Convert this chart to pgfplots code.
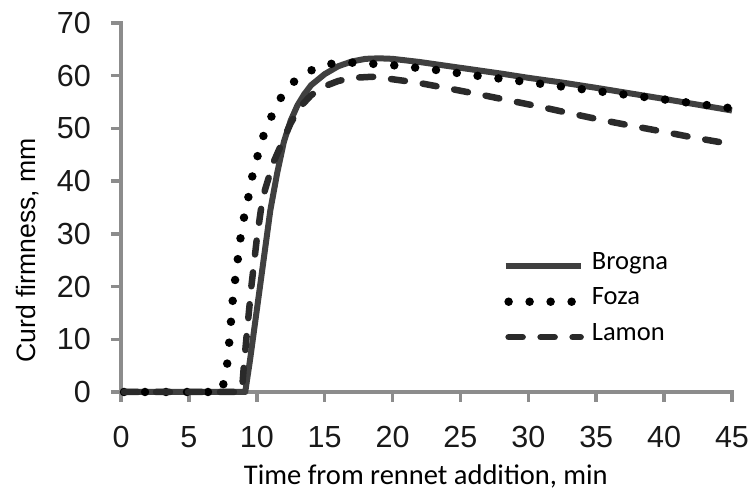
\documentclass[border=0pt]{standalone}
\usepackage{pgfplots}
\pgfplotsset{compat=1.18}
\usepackage{fontspec}
\setmainfont{Liberation Sans}
\newfontfamily\calibri{Carlito}
\definecolor{axgray}{HTML}{8C8C8C}
\definecolor{brogna}{HTML}{404040}
\definecolor{lamon}{HTML}{2A2A2A}
\newcommand{\lgf}{\calibri\fontsize{26.5}{28}\selectfont}
\begin{document}
\begin{tikzpicture}
\useasboundingbox (-121pt,-102pt) rectangle (631pt,392pt);
\begin{axis}[
  at={(0pt,0pt)}, anchor=south west,
  scale only axis, width=611pt, height=369pt,
  xmin=0, xmax=45, ymin=0, ymax=70,
  clip=false,
  axis x line*=bottom, axis y line*=left,
  axis line style={draw=axgray, line width=3.5pt, line cap=rect},
  every tick/.style={draw=axgray, line width=3.5pt},
  tick align=outside, major tick length=10pt,
  xtick={0,5,...,45}, ytick={0,10,...,70},
  /pgf/number format/assume math mode=true,
  tick label style={font=\fontsize{30.5}{33}\selectfont, text=black!90},
  yticklabel style={inner sep=0pt, xshift=-20pt},
  xticklabel style={inner sep=0pt, yshift=-24pt},
  xlabel={Time from rennet addition, min},
  xlabel style={font=\calibri\fontsize{28.5}{30}\selectfont, at={(axis description cs:0.499,0)}, anchor=base, yshift=-93pt, inner sep=0pt},
  ylabel={Curd firmness, mm},
  ylabel style={font=\fontsize{26.6}{28}\selectfont, at={(axis cs:-6.33,26.9)}, anchor=base, inner sep=0pt},
  legend image code/.code={\draw[#1] (0pt,-2.5pt) -- (75pt,-2.5pt);},
  legend cell align=left,
  legend style={draw=none, fill=none, at={(axis cs:28.0,17.6)}, anchor=west, inner sep=0pt,
    row sep=12.5pt, column sep=0pt,
    nodes={inner sep=0pt, text height=17pt, text depth=6pt}},
]
\addplot[brogna, line width=6pt, line join=round] coordinates {
(0,0) (9.15,0) (9.5,6) (10,15.5) (10.5,25) (11,34.5) (11.5,41.5) (12,47.5) (12.5,51.5) (13,54.4) (13.5,56.5) (14,58.2) (15,60.3) (16,61.8) (17,62.7) (18,63.2) (19,63.3) (20,63.2) (22,62.6) (25,61.5) (28,60.4) (30,59.6) (32.5,58.7) (35,57.7) (40,55.6) (45,53.4)
};
\addlegendentry{\hspace{7pt}\lgf Brogna}
\addplot[black, line width=8.5pt, line cap=round, dash pattern=on 0pt off 21pt, dash phase=-3pt] coordinates {
(0,0) (7.35,0) (7.5,1) (7.8,4.8) (7.95,8.8) (8.08,12.7) (8.2,16.7) (8.37,20.6) (8.57,24.5) (8.76,28.5) (9,32.4) (9.33,36.2) (9.6,40.2) (10,44.2) (10.4,48) (11,51.8) (11.6,55.2) (12.6,58.6) (13.8,60.8) (15.2,62.2) (16.8,62.5) (18.3,62.3) (20,62) (22.9,61.2) (25.9,60.1) (29,59.1) (32,58.1) (35,57.1) (40,55.5) (45,53.8)
};
\addlegendentry{\hspace{7pt}\lgf Foza}
\addplot[lamon, line width=6.5pt, line cap=round, line join=round, dash pattern=on 14pt off 18pt, dash phase=-3pt] coordinates {
(0,0) (8.9,0) (9.05,5) (9.3,12) (9.6,20) (10,29) (10.3,34.5) (10.6,38.3) (11.2,43.4) (11.95,47.8) (12.5,51) (13.2,54.1) (14,56.3) (14.9,57.9) (16,59) (17.1,59.6) (18.5,59.8) (19.8,59.4) (21.8,58.7) (24.1,57.6) (26.3,56.5) (28.6,55.3) (30.9,54.1) (33.2,52.8) (35.4,51.6) (37.6,50.5) (39.9,49.4) (42.1,48.3) (45,47)
};
\addlegendentry{\hspace{7pt}\lgf Lamon}
\end{axis}
\end{tikzpicture}
\end{document}
